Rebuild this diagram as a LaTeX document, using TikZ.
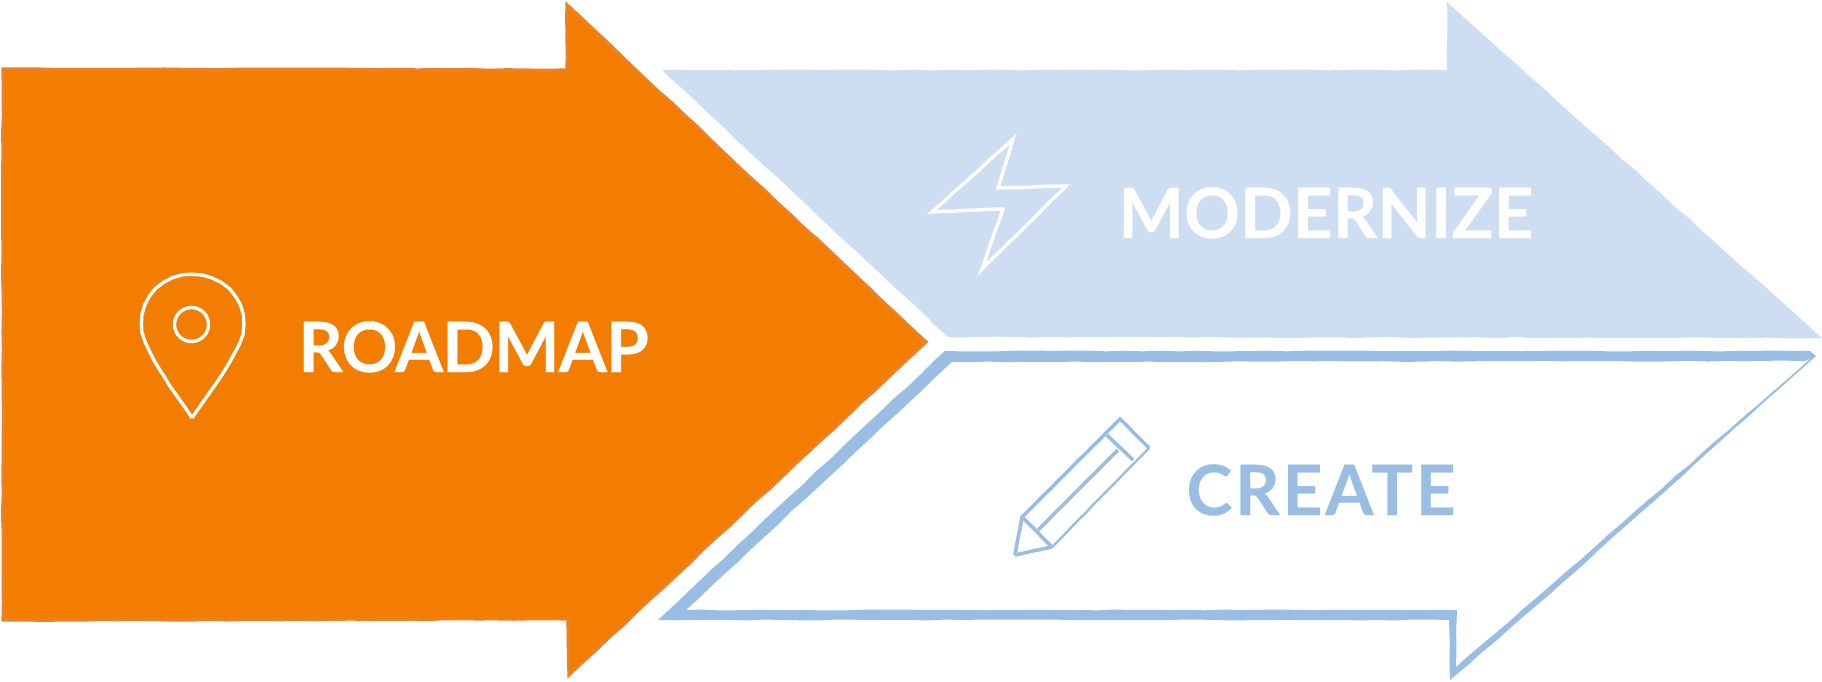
\documentclass[tikz,border=0pt]{standalone}
\usepackage{fontspec}
\setmainfont{Lato}[BoldFont={Lato Bold}]
\usetikzlibrary{decorations.pathmorphing}
\definecolor{rmorange}{HTML}{F27D00}
\definecolor{rmedge}{HTML}{EE8024}
\definecolor{rmpale}{HTML}{CDDDF2}
\definecolor{rmblue}{HTML}{9ABDE3}
\tikzset{
  rough/.style = {decorate, decoration={random steps, segment length=9pt, amplitude=.25pt}},
  arw_o/.style = {rough, fill=rmorange, draw=rmedge, line width=1.6pt, line join=miter},
  arw_p/.style = {rough, fill=rmpale},
  arw_b/.style = {rough, fill=rmblue, even odd rule},
  ico_w/.style = {draw=white, line width=1.7pt},
  ico_r/.style = {ico_w, decorate, decoration={random steps, segment length=5pt, amplitude=.15pt}},
  ico_b/.style = {decorate, decoration={random steps, segment length=5pt, amplitude=.12pt}, draw=rmblue, line width=1.8pt},
  lbl/.style = {anchor=base west, inner sep=0pt, font=\fontsize{34.7}{40}\selectfont\addfontfeature{LetterSpace=#1,FakeBold=0.3}\bfseries},
  lbl_w/.style = {lbl=#1, text=white},
  lbl_b/.style = {lbl=#1, text=rmblue}
}
\begin{document}
\begin{tikzpicture}[x=0.5pt,y=-0.5pt]
\useasboundingbox (0,0) rectangle (1822,681);
\pgfmathsetseed{11}
\path[arw_p] (662,70) -- (1447,70) -- (1447,2) -- (1822,338) -- (948,337) -- cycle;
\path[arw_b] (945,351) -- (1810,351) -- (1816,356) -- (1550,594) -- (1450,680) -- (1449,620) -- (658,620) -- cycle
	(952,362) -- (1805,361) -- (1811,358) -- (1550,586) -- (1456,667) -- (1457,610) -- (686,610) -- cycle;
\draw[arw_o] (3,69) -- (567,70) -- (567,5) -- (926,342) -- (569,675) -- (568,619) -- (3,620) -- cycle;

\draw[ico_r] (192,418) .. controls (175,392) and (142,350) .. (142,325) .. controls (142,295) and (165,275) .. (192,275) .. controls (220,275) and (243,295) .. (243,325) .. controls (243,350) and (209,392) .. (192,418) -- cycle;
\draw[ico_w] (191.5,324.5) circle (17);
\node[lbl_w=-1.4] (roadmap) at (298,372) {ROADMAP};

\draw[ico_r] (1013,139) -- (932,212) -- (1003,209) -- (982,269) -- (1066,186) -- (998,188) -- cycle;
\node[lbl_w=0] (modernize) at (1118,238) {MODERNIZE};

\draw[ico_b] (1015,555) -- (1022,517) -- (1120,419) -- (1149,448);
\draw[ico_b, line width=1.2pt] (1149,448) -- (1052,547);
\draw[ico_b] (1052,547) -- (1015,555);
\draw[ico_b] (1022,517) -- (1052,547);
\draw[ico_b] (1107,435) -- (1133,460);
\draw[ico_b] (1038,530) -- (1118,450);
\node[lbl_b=4] (create) at (1186,515) {CREATE};
\end{tikzpicture}
\end{document}
